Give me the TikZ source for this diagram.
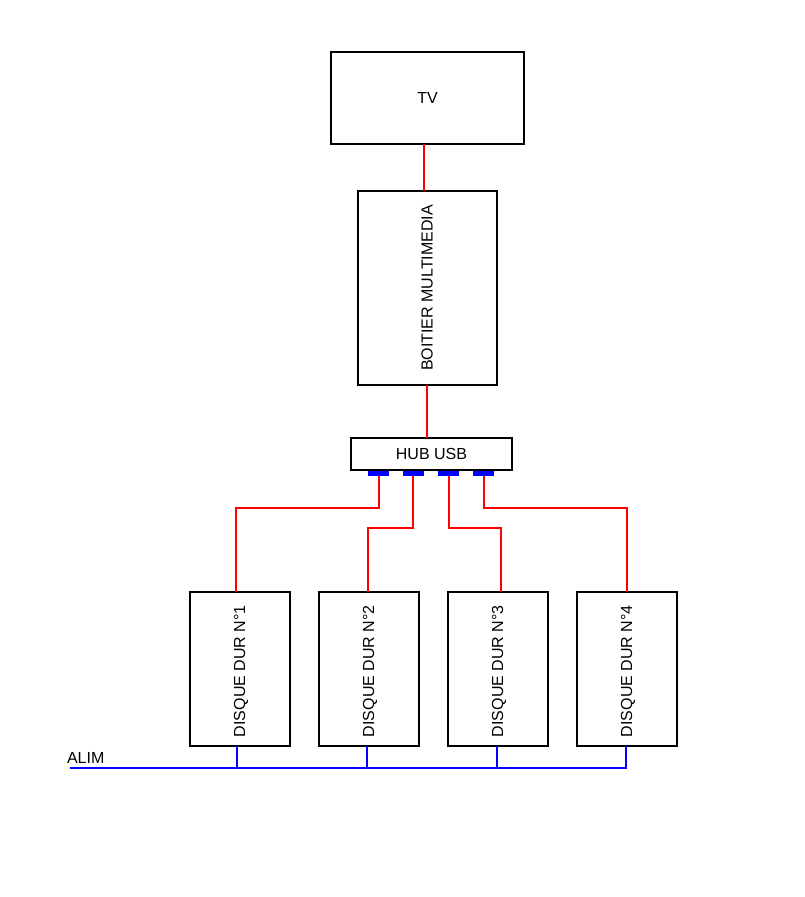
\documentclass[tikz,border=0pt]{standalone}
\usepackage{fontspec}
\setmainfont{Liberation Sans}
\begin{document}
\begin{tikzpicture}[x=1pt,y=-1pt,
  boxnode/.style={draw=black,line width=2pt,inner sep=0pt,outer sep=0pt,font=\fontsize{16}{18}\selectfont},
  lbl/.style={inner sep=0pt,outer sep=0pt,font=\fontsize{16}{18}\selectfont},
  port/.style={fill=blue,draw=none,inner sep=0pt,outer sep=0pt,minimum width=21pt,minimum height=5pt,anchor=north},
  redwire/.style={draw=red,line width=2pt},
  bluewire/.style={draw=blue,line width=2pt}]
\useasboundingbox (0,0) rectangle (805,897);
% boxes
\node[boxnode,minimum width=193pt,minimum height=92pt] (tv) at (427.5,98) {TV};
\node[boxnode,minimum width=139pt,minimum height=194pt] (box) at (427.5,288) {};
\node[lbl,rotate=90] (boxtxt) at (427,288) {BOITIER MULTIMEDIA};
\node[boxnode,minimum width=161pt,minimum height=32pt] (hub) at (431.5,454) {HUB USB};
\foreach \i/\x in {1/378.5,2/413,3/448.5,4/483.5}{
  \node[port] (p\i) at (\x,471) {};
}
\foreach \i/\x in {1/240,2/369,3/498,4/627}{
  \node[boxnode,minimum width=100pt,minimum height=154pt] (d\i) at (\x,669) {};
  \node[lbl,rotate=90,anchor=west] (t\i) at (\x+1,737) {DISQUE DUR N°\i};
}
% red wires
\draw[redwire] ([xshift=-3.5pt]tv.south) -- ([xshift=-3.5pt]tv.south |- box.north);
\draw[redwire] ([xshift=-0.5pt]box.south) -- ([xshift=-0.5pt]box.south |- hub.north);
\draw[redwire] (p1.south) -- ++(0,32) -| ([xshift=-4pt]d1.north);
\draw[redwire] (p2.south) -- ++(0,52) -| ([xshift=-1pt]d2.north);
\draw[redwire] (p3.south) -- ++(0,52) -| ([xshift=3pt]d3.north);
\draw[redwire] (p4.south) -- ++(0,32) -| (d4.north);
% power line
\coordinate (alimstart) at (70,768);
\coordinate (alimend) at (627,768);
\draw[bluewire] (alimstart) -- (alimend);
\draw[bluewire] ([xshift=-3pt]d1.south) -- ([xshift=-3pt]d1.south |- alimstart);
\draw[bluewire] ([xshift=-2pt]d2.south) -- ([xshift=-2pt]d2.south |- alimstart);
\draw[bluewire] ([xshift=-1pt]d3.south) -- ([xshift=-1pt]d3.south |- alimstart);
\draw[bluewire] ([xshift=-1pt]d4.south) -- ([xshift=-1pt]d4.south |- alimstart);
\node[lbl,anchor=base west] (alim) at (67,763) {ALIM};
\end{tikzpicture}
\end{document}
